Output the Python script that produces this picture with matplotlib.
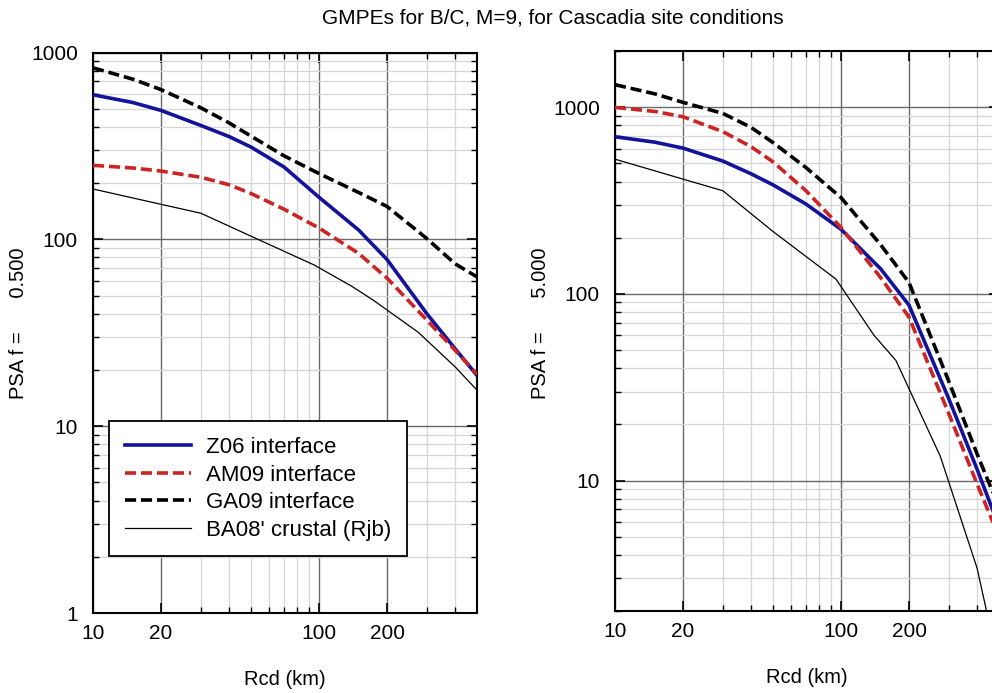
import numpy as np
import matplotlib
matplotlib.use('Agg')
import matplotlib.pyplot as plt
from matplotlib.ticker import FixedLocator, FuncFormatter, NullFormatter

plt.rcParams['font.family'] = ['Liberation Sans', 'DejaVu Sans']
plt.rcParams['lines.scale_dashes'] = False

# distances (km) for the smooth GMPE curves
r_km = [10, 15, 20, 30, 40, 50, 70, 100, 150, 200, 300, 400, 500]
# BA08' is drawn through fewer, coarser points
r_ba08 = [10, 20, 30, 50, 95, 140, 175, 275, 400, 500]

# f = 0.5 Hz
z06_05 = [594, 540, 490, 407, 355, 312, 244, 168, 112, 78, 40, 26, 18.7]
am09_05 = [249, 241, 232, 215, 196, 176, 145, 115, 84, 62, 37, 25.5, 19]
ga09_05 = [828, 720, 633, 506, 420, 357, 280, 225, 178, 150, 101, 74, 63]
ba08_05 = [186, 154, 138, 104, 73, 56, 47, 31.8, 20.8, 15.6]

# f = 5 Hz
z06_5 = [695, 650, 604, 515, 440, 384, 303, 222, 136, 87, 27.4, 11.5, 5.7]
am09_5 = [998, 950, 889, 740, 615, 510, 357, 227, 122, 75, 22.8, 9.6, 5.0]
ga09_5 = [1321, 1180, 1062, 927, 780, 647, 475, 328, 183, 115, 34, 13.9, 7.2]
ba08_5 = [527, 412, 357, 216, 120, 60, 44, 13.5, 3.4, 1.0]

labels = ['Z06 interface', 'AM09 interface', 'GA09 interface', "BA08' crustal (Rjb)"]
blue = '#12129a'
red = '#cc2424'


def panel(ax, z06, am09, ga09, ba08, ylim, ylabel, ylab_y):
    '''
    One log-log panel of PSA vs distance
    '''
    ax.plot(r_km, z06, color=blue, lw=2.6, label=labels[0], zorder=4)
    ax.plot(r_km, am09, color=red, lw=2.6, dashes=(8, 3.5), label=labels[1], zorder=4)
    ax.plot(r_km, ga09, color='k', lw=2.6, dashes=(8, 3.5), label=labels[2], zorder=4)
    ax.plot(r_ba08, ba08, color='k', lw=0.9, label=labels[3], zorder=4)
    ax.set_xscale('log')
    ax.set_yscale('log')
    ax.set_xlim(10, 500)
    ax.set_ylim(*ylim)

    ax.xaxis.set_major_locator(FixedLocator([10, 20, 100, 200]))
    ax.xaxis.set_minor_locator(FixedLocator([30, 40, 50, 60, 70, 80, 90, 300, 400]))
    decs = [1, 10, 100, 1000]
    ax.yaxis.set_major_locator(FixedLocator(decs))
    ax.yaxis.set_minor_locator(FixedLocator([m * d for d in decs for m in range(2, 10)]))
    fmt = FuncFormatter(lambda v, p: '%g' % v)
    ax.xaxis.set_major_formatter(fmt)
    ax.yaxis.set_major_formatter(fmt)
    ax.xaxis.set_minor_formatter(NullFormatter())
    ax.yaxis.set_minor_formatter(NullFormatter())

    ax.grid(True, which='major', color='#6a6a6a', lw=1.0, zorder=1)
    ax.grid(True, which='minor', color='#d6d6d6', lw=0.9, zorder=0)
    ax.set_axisbelow(True)
    ax.tick_params(which='both', direction='in', top=True, right=True, labelsize=15)
    ax.tick_params(which='major', length=7, width=1.2, pad=8)
    ax.tick_params(which='minor', length=4.5, width=1.0)
    ax.tick_params(axis='y', which='major', pad=11)
    for s in ax.spines.values():
        s.set_linewidth(1.5)

    ax.set_xlabel('Rcd (km)', fontsize=14.5)
    ax.xaxis.set_label_coords(0.5, -0.119)
    ax.xaxis.label.set_verticalalignment('center')
    ax.set_ylabel(ylabel, fontsize=14.5)
    ax.yaxis.set_label_coords(-0.195, ylab_y)
    ax.yaxis.label.set_verticalalignment('center')


fig = plt.figure(figsize=(9.92, 6.93), dpi=100)
ax1 = fig.add_axes([0.0938, 0.1154, 0.387, 0.8088])
ax2 = fig.add_axes([0.620, 0.1183, 0.387, 0.808])

panel(ax1, z06_05, am09_05, ga09_05, ba08_05, (1, 1000), 'PSA f =      0.500', 0.517)
panel(ax2, z06_5, am09_5, ga09_5, ba08_5, (2, 2000), 'PSA f =      5.000', 0.514)

leg = ax1.legend(loc='upper left', bbox_to_anchor=(0.042, 0.342), borderaxespad=0,
                 fontsize=16, handlelength=3.0, handletextpad=0.65, labelspacing=0.3,
                 borderpad=0.7, fancybox=False, framealpha=1, edgecolor='k')
leg.get_frame().set_linewidth(1.3)
leg.set_zorder(10)

fig.text(0.557, 0.974, 'GMPEs for B/C, M=9, for Cascadia site conditions',
         ha='center', va='center', fontsize=15)

fig.savefig('out.png', dpi=100)
